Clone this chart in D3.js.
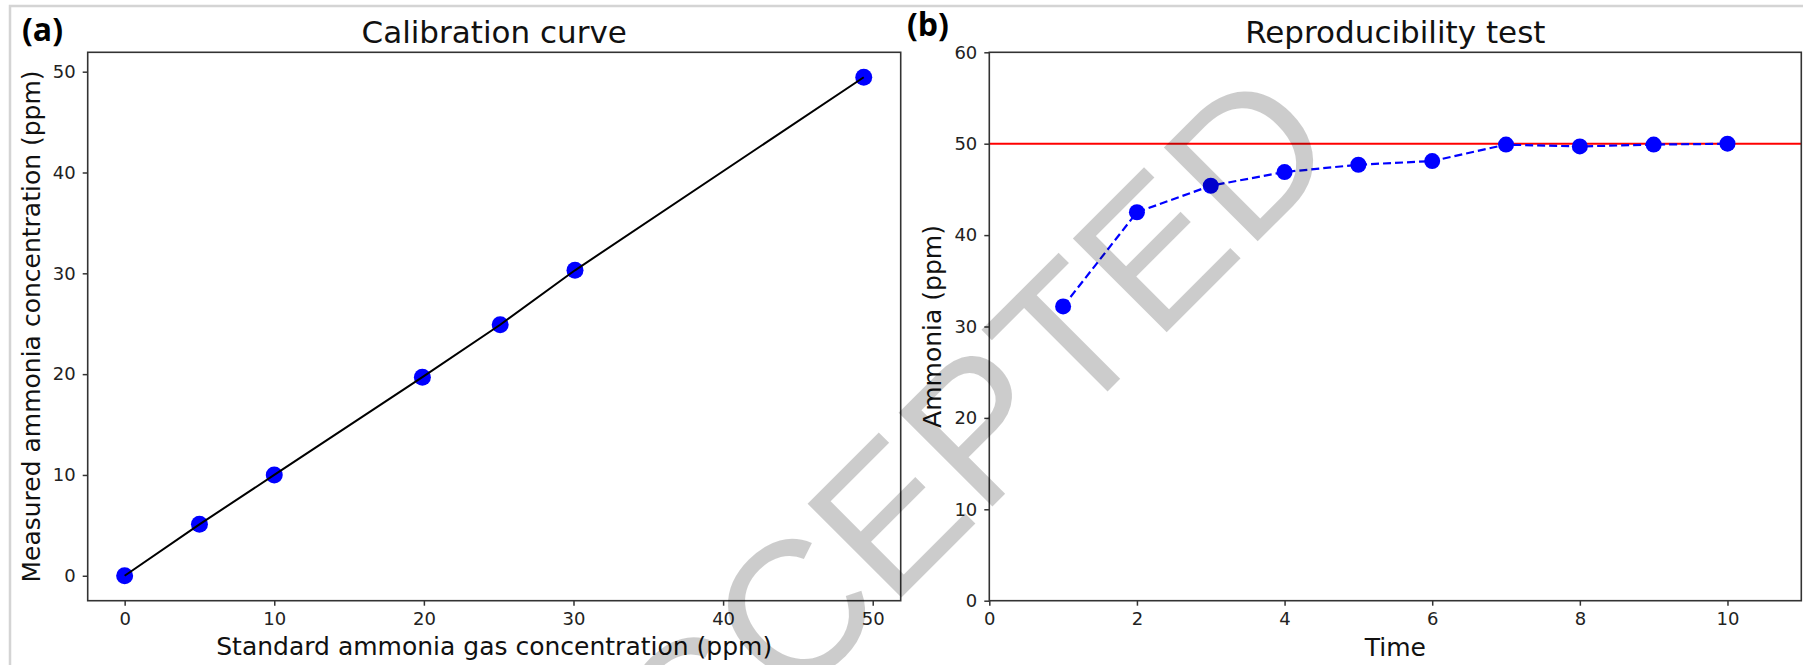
<!DOCTYPE html>
<html>
<head>
<meta charset="utf-8">
<script src="https://cdn.jsdelivr.net/npm/d3@7"></script>
<style>
  body { margin: 0; background: #fff; }
  svg { display: block; }
  .tick text { font-family: "DejaVu Sans", sans-serif; font-size: 18px; fill: #222; }
  .tick line { stroke: #333; stroke-width: 1.5; }
  .lbl { font-family: "DejaVu Sans", sans-serif; font-size: 25px; fill: #111; }
  .ttl { font-family: "DejaVu Sans", sans-serif; font-size: 31px; fill: #111; }
  .tag { font-family: "Open Sans", sans-serif; font-size: 32px; font-weight: bold; fill: #000; }
</style>
</head>
<body>
<div id="fig"></div>
<script>
// panel (a): calibration
const calStandard = [0, 5, 10, 19.9, 25.1, 30.1, 49.4];
const calMeasured = [0, 5.1, 10.0, 19.7, 24.9, 30.3, 49.45];
const calXTicks = [0, 10, 20, 30, 40, 50];
const calYTicks = [0, 10, 20, 30, 40, 50];

// panel (b): reproducibility
const reproTime = [1, 2, 3, 4, 5, 6, 7, 8, 9, 10];
const reproAmmonia = [32.2, 42.5, 45.4, 46.9, 47.7, 48.1, 49.9, 49.7, 49.9, 50.0];
const reproXTicks = [0, 2, 4, 6, 8, 10];
const reproYTicks = [0, 10, 20, 30, 40, 50, 60];
const targetLevel = 50;

const W = 1803, H = 665;

const svg = d3.select("#fig").append("svg")
  .attr("width", W)
  .attr("height", H);

svg.append("rect").attr("width", W).attr("height", H).attr("fill", "#fff");

// light page frame
svg.append("path")
  .attr("d", `M10,${H} L10,6 L${W},6`)
  .attr("fill", "none")
  .attr("stroke", "#d4d4d4")
  .attr("stroke-width", 2.5);

// matplotlib style 5% margins
function padded(vals) {
  let [lo, hi] = d3.extent(vals);
  let p = (hi - lo) * 0.05;
  return [lo - p, hi + p];
}

function panel(box, xDomain, yDomain, xTicks, yTicks) {
  let g = svg.append("g");
  let x = d3.scaleLinear().domain(xDomain).range([box.left, box.right]);
  let y = d3.scaleLinear().domain(yDomain).range([box.bottom, box.top]);

  g.append("g")
    .attr("transform", `translate(0,${box.bottom})`)
    .call(d3.axisBottom(x).tickValues(xTicks).tickSize(5).tickPadding(7).tickFormat(d3.format("d")))
    .call(s => s.select(".domain").remove());

  g.append("g")
    .attr("transform", `translate(${box.left},0)`)
    .call(d3.axisLeft(y).tickValues(yTicks).tickSize(5).tickPadding(7).tickFormat(d3.format("d")))
    .call(s => s.select(".domain").remove());

  let plot = g.append("g");

  g.append("rect")
    .attr("x", box.left).attr("y", box.top)
    .attr("width", box.right - box.left).attr("height", box.bottom - box.top)
    .attr("fill", "none").attr("stroke", "#333").attr("stroke-width", 1.6);

  return {g: g, plot: plot, x: x, y: y};
}

// ---- (a) ----
let boxA = {left: 87.7, right: 900.7, top: 52.3, bottom: 600.7};
let pa = panel(boxA, padded(calStandard), padded(calMeasured), calXTicks, calYTicks);
let calData = calStandard.map((v, i) => [v, calMeasured[i]]);

pa.plot.selectAll("circle").data(calData).join("circle")
  .attr("cx", d => pa.x(d[0]))
  .attr("cy", d => pa.y(d[1]))
  .attr("r", 8.5)
  .attr("fill", "#0000ff");

pa.plot.append("path")
  .datum(calData)
  .attr("d", d3.line().x(d => pa.x(d[0])).y(d => pa.y(d[1])))
  .attr("fill", "none")
  .attr("stroke", "#000")
  .attr("stroke-width", 2);

pa.g.append("text").attr("class", "ttl")
  .attr("x", (boxA.left + boxA.right) / 2).attr("y", 43)
  .attr("text-anchor", "middle").text("Calibration curve");
pa.g.append("text").attr("class", "lbl")
  .attr("x", (boxA.left + boxA.right) / 2).attr("y", 655)
  .attr("text-anchor", "middle").text("Standard ammonia gas concentration (ppm)");
pa.g.append("text").attr("class", "lbl")
  .attr("transform", `translate(40,${(boxA.top + boxA.bottom) / 2}) rotate(-90)`)
  .attr("text-anchor", "middle").text("Measured ammonia concentration (ppm)");
pa.g.append("text").attr("class", "tag").attr("x", 22).attr("y", 41).text("(a)");

// ---- (b) ----
let boxB = {left: 989.3, right: 1801.3, top: 52.3, bottom: 600.7};
let pb = panel(boxB, [0, 11], [0, 60], reproXTicks, reproYTicks);
let reproData = reproTime.map((t, i) => [t, reproAmmonia[i]]);

pb.plot.append("line")
  .attr("x1", boxB.left).attr("x2", boxB.right)
  .attr("y1", pb.y(targetLevel)).attr("y2", pb.y(targetLevel))
  .attr("stroke", "#ff0000").attr("stroke-width", 2);

pb.plot.append("path")
  .datum(reproData)
  .attr("d", d3.line().x(d => pb.x(d[0])).y(d => pb.y(d[1])))
  .attr("fill", "none")
  .attr("stroke", "#0000ff")
  .attr("stroke-width", 2.2)
  .attr("stroke-dasharray", "8,4");

pb.plot.selectAll("circle").data(reproData).join("circle")
  .attr("cx", d => pb.x(d[0]))
  .attr("cy", d => pb.y(d[1]))
  .attr("r", 8)
  .attr("fill", "#0000ff");

pb.g.append("text").attr("class", "ttl")
  .attr("x", (boxB.left + boxB.right) / 2).attr("y", 43)
  .attr("text-anchor", "middle").text("Reproducibility test");
pb.g.append("text").attr("class", "lbl")
  .attr("x", (boxB.left + boxB.right) / 2).attr("y", 656)
  .attr("text-anchor", "middle").text("Time");
pb.g.append("text").attr("class", "lbl")
  .attr("transform", `translate(941,${(boxB.top + boxB.bottom) / 2}) rotate(-90)`)
  .attr("text-anchor", "middle").text("Ammonia (ppm)");
pb.g.append("text").attr("class", "tag").attr("x", 907).attr("y", 36).text("(b)");

// watermark over everything (starts below the page, runs up to the right)
svg.append("text")
  .attr("transform", "translate(602,897) rotate(-45)")
  .attr("font-family", "Liberation Sans, Arial, sans-serif")
  .attr("font-size", 193)
  .attr("fill", "#000")
  .attr("fill-opacity", 0.2)
  .text("ACCEPTED");
</script>
</body>
</html>
